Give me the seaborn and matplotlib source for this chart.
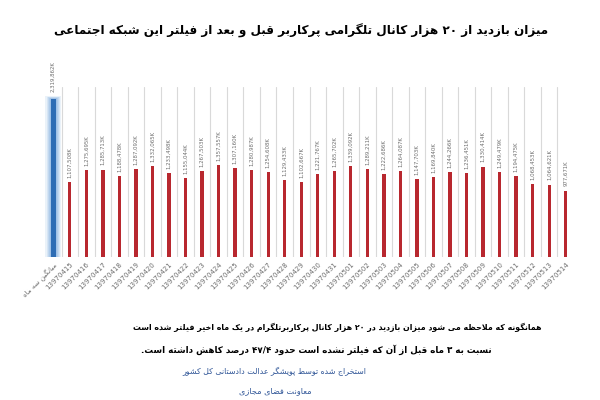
import re
import matplotlib
matplotlib.use("Agg")
import matplotlib.pyplot as plt
import seaborn as sns
import pandas as pd

# ---------------- data ----------------
title_text = "میزان بازدید از ۲۰ هزار کانال تلگرامی پرکاربر قبل و بعد از فیلتر این شبکه اجتماعی"
note_line1 = "همانگونه که ملاحظه می شود میزان بازدید در ۲۰ هزار کانال پرکاربرتلگرام در یک ماه اخیر فیلتر شده است"
note_line2 = "نسبت به ۳ ماه قبل از آن که فیلتر نشده است حدود ۴۷/۴ درصد کاهش داشته است."
source_line1 = "استخراج شده توسط پویشگر عدالت دادستانی کل کشور"
source_line2 = "معاونت فضای مجازی"

categories = ["میانگین سه ماه",
              "13970415", "13970416", "13970417", "13970418", "13970419",
              "13970420", "13970421", "13970422", "13970423", "13970424",
              "13970425", "13970426", "13970427", "13970428", "13970429",
              "13970430", "13970431", "13970501", "13970502", "13970503",
              "13970504", "13970505", "13970506", "13970507", "13970508",
              "13970509", "13970510", "13970511", "13970512", "13970513",
              "13970514"]
views_k = [2319862,
           1107508, 1275695, 1285713, 1188478, 1287092,
           1332065, 1233498, 1155044, 1267503, 1357557,
           1307160, 1280987, 1254608, 1129433, 1102667,
           1221767, 1265702, 1339092, 1289211, 1222686,
           1264087, 1147703, 1169840, 1244266, 1236451,
           1330414, 1249479, 1194475, 1068453, 1064621,
           977671]

# ---------------- simple Persian shaping + bidi for display ----------------
FORMS = {
    'ا': ('\uFE8D', '\uFE8E', None, None), 'آ': ('\uFE81', '\uFE82', None, None),
    'ب': ('\uFE8F', '\uFE90', '\uFE91', '\uFE92'), 'پ': ('\uFB56', '\uFB57', '\uFB58', '\uFB59'),
    'ت': ('\uFE95', '\uFE96', '\uFE97', '\uFE98'), 'ث': ('\uFE99', '\uFE9A', '\uFE9B', '\uFE9C'),
    'ج': ('\uFE9D', '\uFE9E', '\uFE9F', '\uFEA0'), 'چ': ('\uFB7A', '\uFB7B', '\uFB7C', '\uFB7D'),
    'ح': ('\uFEA1', '\uFEA2', '\uFEA3', '\uFEA4'), 'خ': ('\uFEA5', '\uFEA6', '\uFEA7', '\uFEA8'),
    'د': ('\uFEA9', '\uFEAA', None, None), 'ذ': ('\uFEAB', '\uFEAC', None, None),
    'ر': ('\uFEAD', '\uFEAE', None, None), 'ز': ('\uFEAF', '\uFEB0', None, None),
    'ژ': ('\uFB8A', '\uFB8B', None, None),
    'س': ('\uFEB1', '\uFEB2', '\uFEB3', '\uFEB4'), 'ش': ('\uFEB5', '\uFEB6', '\uFEB7', '\uFEB8'),
    'ص': ('\uFEB9', '\uFEBA', '\uFEBB', '\uFEBC'), 'ض': ('\uFEBD', '\uFEBE', '\uFEBF', '\uFEC0'),
    'ط': ('\uFEC1', '\uFEC2', '\uFEC3', '\uFEC4'), 'ظ': ('\uFEC5', '\uFEC6', '\uFEC7', '\uFEC8'),
    'ع': ('\uFEC9', '\uFECA', '\uFECB', '\uFECC'), 'غ': ('\uFECD', '\uFECE', '\uFECF', '\uFED0'),
    'ف': ('\uFED1', '\uFED2', '\uFED3', '\uFED4'), 'ق': ('\uFED5', '\uFED6', '\uFED7', '\uFED8'),
    'ک': ('\uFB8E', '\uFB8F', '\uFB90', '\uFB91'), 'گ': ('\uFB92', '\uFB93', '\uFB94', '\uFB95'),
    'ل': ('\uFEDD', '\uFEDE', '\uFEDF', '\uFEE0'), 'م': ('\uFEE1', '\uFEE2', '\uFEE3', '\uFEE4'),
    'ن': ('\uFEE5', '\uFEE6', '\uFEE7', '\uFEE8'), 'ه': ('\uFEE9', '\uFEEA', '\uFEEB', '\uFEEC'),
    'و': ('\uFEED', '\uFEEE', None, None),
    'ی': ('\uFBFC', '\uFBFD', '\uFBFE', '\uFBFF'), 'ئ': ('\uFE89', '\uFE8A', '\uFE8B', '\uFE8C'),
}
LAM_ALEF = {'ا': ('\uFEFB', '\uFEFC'), 'آ': ('\uFEF5', '\uFEF6')}


def _dual(c):
    return c in FORMS and FORMS[c][2] is not None


def shape(text):
    out = []
    i = 0
    n = len(text)
    while i < n:
        c = text[i]
        if c not in FORMS:
            out.append(c)
            i += 1
            continue
        prev = text[i - 1] if i > 0 else ''
        pj = _dual(prev)
        if c == 'ل' and i + 1 < n and text[i + 1] in LAM_ALEF:
            out.append(LAM_ALEF[text[i + 1]][1 if pj else 0])
            i += 2
            continue
        nxt = text[i + 1] if i + 1 < n else ''
        nj = nxt in FORMS and _dual(c)
        iso, fin, ini, med = FORMS[c]
        if pj and nj:
            out.append(med)
        elif pj:
            out.append(fin)
        elif nj:
            out.append(ini)
        else:
            out.append(iso)
        i += 1
    return ''.join(out)


LTR_RUN = re.compile(r'([0-9\u06F0-\u06F9A-Za-z]+(?:[/.,:][0-9\u06F0-\u06F9A-Za-z]+)*)')


def rtl(text):
    if not re.search(r'[\u0600-\u06FF]', text):
        return text
    s = shape(text)
    toks = LTR_RUN.split(s)
    vis = []
    for k, tok in enumerate(reversed(toks)):
        idx = len(toks) - 1 - k
        vis.append(tok if idx % 2 == 1 else tok[::-1])
    return ''.join(vis)


# ---------------- plot ----------------
sns.set_theme(style="white")
plt.rcParams['font.family'] = ['DejaVu Sans']

df = pd.DataFrame({"cat": categories, "views": views_k})
red = "#D0101A"
blue = "#2E6DB4"
palette = [blue] + [red] * (len(categories) - 1)

fig = plt.figure(figsize=(6, 4), dpi=100)
ax = fig.add_axes([45 / 600, 1 - 257 / 400, 529 / 600, 170 / 400])

# glow around the average bar
for w, a in [(0.95, 0.18), (0.8, 0.22), (0.65, 0.28), (0.52, 0.35), (0.42, 0.45)]:
    ax.bar(0, views_k[0] * (1 + 0.02 * w), width=w, color="#8FB8E3", alpha=a,
           linewidth=0, zorder=1)

sns.barplot(data=df, x="cat", y="views", hue="cat", palette=palette, legend=False,
            width=0.2, ax=ax, zorder=3, linewidth=0)
ax.bar(0, views_k[0], width=0.32, color=blue, linewidth=0, zorder=4)

ax.set_xlim(-0.5, len(categories) - 0.5)
ax.set_ylim(0, 2500000)
ax.set_yticks([])
ax.set_xlabel("")
ax.set_ylabel("")
for sp in ax.spines.values():
    sp.set_visible(False)

ax.set_xticks(range(len(categories)))
ax.set_xticks([i + 0.5 for i in range(len(categories) - 1)], minor=True)
ax.grid(False)
ax.grid(which="minor", axis="x", color="#D9D9D9", linewidth=0.8, zorder=0)
ax.tick_params(axis="x", which="both", length=0, pad=3)
ax.set_xticklabels([rtl(c) for c in categories], rotation=45, ha="right",
                   rotation_mode="anchor", fontsize=5.0, color="#6E6E6E")

for i, v in enumerate(views_k):
    ax.annotate(f"{v:,}K", (i, v), xytext=(0, 3 if i else 5), textcoords="offset points",
                rotation=90, ha="center", va="bottom", fontsize=3.9, color="#6E6E6E",
                annotation_clip=False)

texts = []
texts.append((fig.text(301 / 600, 1 - 31 / 400, rtl(title_text), ha="center", va="center",
                       fontsize=12, fontweight="bold", color="black"), 493))
texts.append((fig.text(337 / 600, 1 - 327 / 400, rtl(note_line1), ha="center", va="center",
                       fontsize=8, fontweight="bold", color="black"), 408))
texts.append((fig.text(316 / 600, 1 - 350 / 400, rtl(note_line2), ha="center", va="center",
                       fontsize=8, fontweight="bold", color="black"), 354))
texts.append((fig.text(274 / 600, 1 - 372 / 400, rtl(source_line1), ha="center", va="center",
                       fontsize=6, color="#2F5597"), 184))
texts.append((fig.text(275 / 600, 1 - 391 / 400, rtl(source_line2), ha="center", va="center",
                       fontsize=6, color="#2F5597"), 72))

fig.canvas.draw()
renderer = fig.canvas.get_renderer()
for t, target in texts:
    w = t.get_window_extent(renderer).width
    t.set_fontsize(t.get_fontsize() * target / w)

fig.savefig("out.png", dpi=100, facecolor="white")
